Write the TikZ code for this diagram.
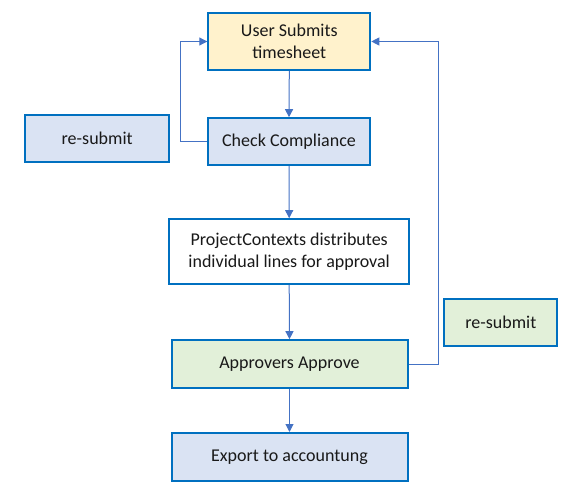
\documentclass[tikz,border=0pt]{standalone}
\usepackage{fontspec}
\setmainfont{Carlito}
\usetikzlibrary{arrows.meta}
\definecolor{bordc}{HTML}{0070C0}
\definecolor{linec}{HTML}{4472C4}
\definecolor{fyel}{HTML}{FFF2CC}
\definecolor{fblu}{HTML}{DAE3F3}
\definecolor{fgrn}{HTML}{E2F0D9}
\begin{document}
\begin{tikzpicture}[x=1pt,y=-1pt,
  box/.style={draw=bordc, line width=2pt, align=center, inner sep=0pt,
    font=\fontsize{18}{22.5}\selectfont, text=black!90},
  conn/.style={draw=linec, line width=1pt, -{Triangle[length=8pt,width=8pt]}}]
\useasboundingbox (0,0) rectangle (573,497);
\node[box, fill=fyel, minimum width=162pt, minimum height=57pt] (user) at (289.3,41.5) {User Submits\\timesheet};
\node[box, fill=fblu, minimum width=162pt, minimum height=47pt] (chk) at (289,141.7) {Check Compliance};
\node[box, fill=fblu, minimum width=144pt, minimum height=47pt] (rsL) at (97.2,138.3) {re-submit};
\node[box, fill=white, minimum width=240pt, minimum height=65pt] (pc) at (289.2,251.7) {ProjectContexts distributes\\individual lines for approval};
\node[box, fill=fgrn, minimum width=113pt, minimum height=47pt] (rsR) at (500.8,322.2) {re-submit};
\node[box, fill=fgrn, minimum width=236pt, minimum height=48pt] (app) at (289.5,364.2) {Approvers Approve};
\node[box, fill=fblu, minimum width=236pt, minimum height=48pt] (exp) at (289.5,457) {Export to accountung};
\coordinate (lx) at (180.7,0);
\coordinate (rx) at (438.3,0);
\draw[conn] (user.south) -- (chk.north);
\draw[conn] (chk.south) -- (pc.north);
\draw[conn] (pc.south) -- (app.north);
\draw[conn] (app.south) -- (exp.north);
\draw[conn] (chk.west) -- (chk.west -| lx) |- (user.west);
\draw[conn] (app.east) -- (app.east -| rx) |- (user.east);
\end{tikzpicture}
\end{document}
